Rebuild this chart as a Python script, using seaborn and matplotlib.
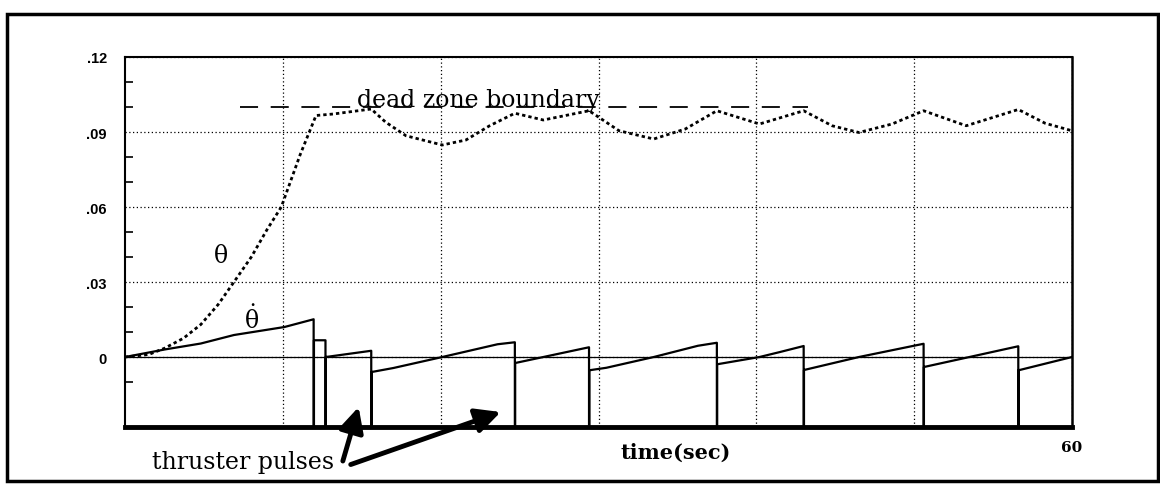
"""Attitude hold with dead zone: theta, theta-dot and thruster pulses."""
import matplotlib
matplotlib.use("Agg")
import matplotlib.pyplot as plt
import matplotlib.patches as mpatches
import numpy as np
import pandas as pd
import seaborn as sns

# theta (dotted curve)
theta_t = [0, 1.5, 2.5, 3.7, 4.8, 5.9, 6.9, 8.0, 9.0, 9.9, 11.1, 12.1, 13.2,
           15.6, 16.5, 17.8, 20.1, 21.6, 23.1, 24.7, 26.5, 29.4, 31.3, 33.5,
           35.5, 37.5, 40.2, 43.0, 44.8, 46.5, 48.6, 50.6, 53.3, 56.6, 58.3, 60.0]
theta_v = [0, 0.001, 0.0035, 0.0075, 0.013, 0.021, 0.030, 0.040, 0.051, 0.060,
           0.081, 0.0966, 0.0972, 0.0992, 0.094, 0.0885, 0.0848, 0.0868, 0.0925,
           0.0975, 0.0948, 0.0985, 0.0905, 0.0872, 0.0912, 0.0985, 0.0932,
           0.0985, 0.0925, 0.0898, 0.0932, 0.0985, 0.0925, 0.0990, 0.0935, 0.0905]

# theta-dot (solid sawtooth), points between thruster pulses
thetadot_t = [0, 2.5, 4.8, 6.9, 10.1, 11.95,
              11.97, 12.7,
              12.72, 15.6,
              15.62, 17.0, 20.1, 23.6, 24.7,
              24.72, 29.4,
              29.42, 30.5, 33.5, 36.3, 37.5,
              37.52, 40.2, 41.5, 43.0,
              43.02, 46.5, 50.6,
              50.62, 56.6,
              56.62, 60.0]
thetadot_v = [0, 0.003, 0.0054, 0.0088, 0.012, 0.0151,
              0.0067, 0.0067,
              0.0, 0.0025,
              -0.006, -0.0044, 0.0, 0.0051, 0.0059,
              -0.0024, 0.0039,
              -0.0053, -0.0043, 0.0, 0.0045, 0.0057,
              -0.0029, 0.0, 0.002, 0.0044,
              -0.0052, 0.0, 0.0053,
              -0.004, 0.0043,
              -0.0053, 0.0]

pulse_t = [11.95, 12.7, 15.6, 24.7, 29.4, 37.5, 43.0, 50.6, 56.6]

deadzone_t = [7.3, 43.3]
deadzone_v = [0.1, 0.1]

grid_t = [10, 20, 30, 40, 50]
ytick_v = [0, 0.03, 0.06, 0.09, 0.12]
ytick_labels = ["0", ".03", ".06", ".09", ".12"]
yminor_v = [-0.01, 0.01, 0.02, 0.04, 0.05, 0.07, 0.08, 0.10, 0.11]

Y_FLOOR = -0.028
X_MAX = 60

sns.set_style("white")
plt.rcParams["font.family"] = ["DejaVu Serif"]
plt.rcParams["mathtext.fontset"] = "dejavuserif"
for key in ["text.color", "axes.labelcolor", "xtick.color", "ytick.color"]:
    plt.rcParams[key] = "black"

# theta-dot path: every pulse drops the trace down to the floor and back
td = pd.DataFrame({"t": thetadot_t, "v": thetadot_v})
rows = []
for i, (t, v) in enumerate(zip(td.t, td.v)):
    rows.append((t, v))
    if t in pulse_t:
        rows.append((t, Y_FLOOR))
        rows.append((td.t[i + 1], Y_FLOOR))
td_path = pd.DataFrame(rows, columns=["t", "v"])

fig = plt.figure(figsize=(11.6, 4.89), dpi=100)
ax = fig.add_axes([0.1078, 0.1247, 0.8163, 0.7567])

ax.axhline(0, color="black", lw=0.9, zorder=2)

sns.lineplot(x=theta_t, y=theta_v, ax=ax, color="black", lw=2.0,
             linestyle=(0, (1.2, 1.1)), estimator=None, sort=False)
sns.lineplot(data=td_path, x="t", y="v", ax=ax, color="black", lw=1.6,
             estimator=None, sort=False)
sns.lineplot(x=deadzone_t, y=deadzone_v, ax=ax, color="black", lw=1.3,
             linestyle=(0, (10, 7)), estimator=None, sort=False)

ax.set_xlabel("")
ax.set_ylabel("")
ax.set_xlim(0, X_MAX)
ax.set_ylim(Y_FLOOR, 0.12)

ax.set_xticks(grid_t + [X_MAX])
ax.set_xticklabels([""] * len(grid_t) + [str(X_MAX)], fontsize=11,
                   fontweight="bold", family="DejaVu Serif")
ax.tick_params(axis="x", length=0, pad=9)

ax.set_yticks(ytick_v)
ax.set_yticklabels(ytick_labels, fontsize=10.5, fontweight="bold",
                   family="Liberation Sans")
ax.set_yticks(yminor_v, minor=True)
ax.tick_params(axis="y", which="major", length=0, pad=13)
ax.tick_params(axis="y", which="minor", direction="in", length=6, width=1.2,
               left=True)

ax.grid(True, which="major", color="black", lw=0.9, linestyle=(0, (1, 2)))
ax.set_axisbelow(True)

for side, lw in [("left", 1.5), ("top", 1.5), ("right", 1.8), ("bottom", 3.5)]:
    ax.spines[side].set_visible(True)
    ax.spines[side].set_linewidth(lw)
    ax.spines[side].set_color("black")

ax.text(22.4, 0.1003, "dead zone boundary", ha="center", va="baseline",
        fontsize=17)
ax.text(6.1, 0.0405, "θ", ha="center", va="center", fontsize=17)
ax.text(8.0, 0.0154, r"$\dot{\mathrm{\theta}}$", ha="center", va="center",
        fontsize=17)
ax.text(34.9, -0.0405, "time(sec)", ha="center", va="baseline", fontsize=15,
        fontweight="bold", clip_on=False)
ax.text(7.47, -0.0444, "thruster pulses", ha="center", va="baseline",
        fontsize=17, clip_on=False)

arrow = dict(arrowstyle="-|>,head_length=0.6,head_width=0.3", lw=3.5,
             color="black", mutation_scale=25, shrinkA=0, shrinkB=0)
ax.annotate("", xy=(14.8, -0.020), xytext=(13.8, -0.0416), arrowprops=arrow,
            annotation_clip=False)
ax.annotate("", xy=(23.8, -0.022), xytext=(14.3, -0.043), arrowprops=arrow,
            annotation_clip=False)

# outer frame of the figure
fig.patches.append(mpatches.Rectangle((0.006, 0.0143), 0.992, 0.955,
                                      transform=fig.transFigure, fill=False,
                                      lw=2.5, edgecolor="black"))

fig.savefig("out.png", dpi=100)
